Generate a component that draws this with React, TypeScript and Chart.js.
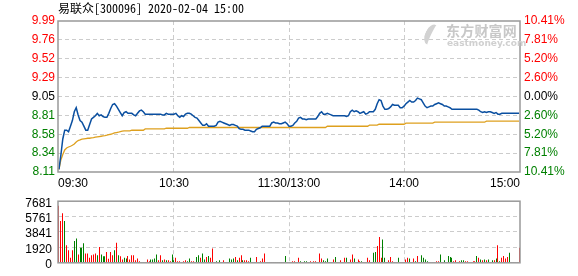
import { useEffect, useRef } from "react";
import { Chart, registerables } from "chart.js";

Chart.register(...registerables);

const titleText = "易联众[300096] 2020-02-04 15:00";
const preClose = 9.05;
const limitPct = 10.41;

// labels, top to bottom as displayed
const priceLabels = ["9.99", "9.76", "9.52", "9.29", "9.05", "8.81", "8.58", "8.34", "8.11"];
const pctLabels = ["10.41%", "7.81%", "5.20%", "2.60%", "0.00%", "2.60%", "5.20%", "7.81%", "10.41%"];
const volLabels = ["7681", "5761", "3841", "1920", "0"];
const volTickValues = [7681, 5761, 3841, 1920, 0];
const timeLabels = ["09:30", "10:30", "11:30/13:00", "14:00", "15:00"];
const timeTickIndex = [-0.5, 60, 120, 180, 240.5];

// minute-by-minute price, 09:30 .. 11:30
const priceAM = [
  8.14, 8.32, 8.52, 8.63, 8.63, 8.61, 8.68, 8.75, 8.86, 8.91,
  8.82, 8.75, 8.73, 8.68, 8.63, 8.63, 8.70, 8.77, 8.79, 8.81,
  8.84, 8.81, 8.82, 8.80, 8.79, 8.79, 8.84, 8.90, 8.95, 8.96,
  8.93, 8.89, 8.85, 8.81, 8.85, 8.86, 8.84, 8.84, 8.84, 8.82,
  8.81, 8.84, 8.87, 8.88, 8.86, 8.83, 8.83, 8.83, 8.83, 8.83,
  8.83, 8.83, 8.83, 8.83, 8.82, 8.82, 8.84, 8.83, 8.83, 8.83,
  8.83, 8.84, 8.81, 8.79, 8.81, 8.80, 8.83, 8.84, 8.84, 8.83,
  8.81, 8.79, 8.78, 8.75, 8.72, 8.69, 8.69, 8.71, 8.68, 8.68,
  8.68, 8.68, 8.69, 8.73, 8.74, 8.73, 8.72, 8.71, 8.70, 8.69,
  8.70, 8.70, 8.69, 8.68, 8.65, 8.64, 8.64, 8.63, 8.63, 8.63,
  8.62, 8.61, 8.61, 8.64, 8.65, 8.66, 8.68, 8.68, 8.68, 8.68,
  8.68, 8.72, 8.73, 8.72, 8.72, 8.71, 8.71, 8.72, 8.73, 8.71,
  8.68,
];
// 13:01 .. 15:00
const pricePM = [
  8.68, 8.69, 8.72, 8.74, 8.78, 8.79, 8.77, 8.77, 8.76, 8.77,
  8.77, 8.77, 8.77, 8.77, 8.80, 8.84, 8.86, 8.83, 8.83, 8.84,
  8.83, 8.82, 8.81, 8.81, 8.81, 8.81, 8.81, 8.81, 8.81, 8.80,
  8.81, 8.86, 8.88, 8.86, 8.87, 8.86, 8.84, 8.85, 8.86, 8.83,
  8.84, 8.86, 8.86, 8.86, 8.89, 8.96, 9.01, 9.00, 8.93, 8.89,
  8.89, 8.90, 8.92, 8.95, 8.94, 8.94, 8.94, 8.91, 8.91, 8.93,
  8.96, 8.98, 9.00, 8.98, 8.98, 9.00, 9.03, 9.02, 9.01, 8.97,
  8.93, 8.91, 8.92, 8.93, 8.93, 8.95, 8.96, 8.97, 8.96, 8.95,
  8.93, 8.93, 8.92, 8.91, 8.89, 8.89, 8.89, 8.89, 8.89, 8.89,
  8.89, 8.89, 8.89, 8.89, 8.89, 8.89, 8.89, 8.89, 8.88, 8.86,
  8.85, 8.86, 8.85, 8.86, 8.86, 8.85, 8.84, 8.85, 8.83, 8.83,
  8.84, 8.84, 8.84, 8.84, 8.84, 8.84, 8.84, 8.84, 8.84, 8.84,
];

// average price line
const avgAM = [
  8.141, 8.258, 8.325, 8.383, 8.408, 8.420, 8.429, 8.441, 8.458, 8.483,
  8.500, 8.508, 8.517, 8.521, 8.525, 8.529, 8.529, 8.533, 8.537, 8.542,
  8.546, 8.550, 8.554, 8.558, 8.562, 8.567, 8.575, 8.579, 8.587, 8.596,
  8.600, 8.604, 8.612, 8.617, 8.621, 8.621, 8.621, 8.621, 8.629, 8.629,
  8.629, 8.629, 8.629, 8.629, 8.629, 8.646, 8.646, 8.646, 8.646, 8.646,
  8.646, 8.646, 8.646, 8.646, 8.646, 8.646, 8.654, 8.654, 8.654, 8.654,
  8.654, 8.654, 8.654, 8.654, 8.654, 8.654, 8.654, 8.654, 8.663, 8.663,
  8.663, 8.663, 8.663, 8.663, 8.663, 8.663, 8.663, 8.663, 8.663, 8.663,
  8.663, 8.663, 8.663, 8.663, 8.663, 8.663, 8.663, 8.663, 8.663, 8.663,
  8.663, 8.663, 8.663, 8.663, 8.663, 8.663, 8.663, 8.663, 8.663, 8.663,
  8.663, 8.663, 8.663, 8.663, 8.663, 8.663, 8.663, 8.663, 8.663, 8.663,
  8.663, 8.663, 8.663, 8.663, 8.663, 8.663, 8.663, 8.663, 8.663, 8.663,
  8.663,
];
const avgPM = [
  8.663, 8.663, 8.663, 8.663, 8.663, 8.663, 8.663, 8.663, 8.663, 8.663,
  8.663, 8.663, 8.663, 8.663, 8.663, 8.663, 8.663, 8.663, 8.663, 8.679,
  8.679, 8.679, 8.679, 8.679, 8.679, 8.679, 8.679, 8.679, 8.679, 8.679,
  8.679, 8.679, 8.679, 8.679, 8.679, 8.679, 8.679, 8.679, 8.679, 8.679,
  8.679, 8.692, 8.692, 8.692, 8.692, 8.692, 8.704, 8.704, 8.704, 8.704,
  8.704, 8.704, 8.704, 8.704, 8.704, 8.704, 8.704, 8.704, 8.704, 8.704,
  8.717, 8.717, 8.717, 8.717, 8.717, 8.717, 8.717, 8.717, 8.717, 8.717,
  8.717, 8.717, 8.717, 8.717, 8.717, 8.729, 8.729, 8.729, 8.729, 8.729,
  8.729, 8.729, 8.729, 8.729, 8.729, 8.729, 8.729, 8.729, 8.729, 8.729,
  8.729, 8.729, 8.729, 8.729, 8.729, 8.729, 8.729, 8.729, 8.729, 8.729,
  8.729, 8.729, 8.742, 8.742, 8.742, 8.742, 8.742, 8.742, 8.742, 8.742,
  8.742, 8.742, 8.742, 8.742, 8.742, 8.742, 8.742, 8.742, 8.742, 8.742,
];

// per-minute volume
const volAM = [
  7120, 5210, 6180, 5210, 2190, 1560, 625, 1560, 2710, 3020,
  1040, 1880, 1880, 2430, 1150, 1150, 625, 940, 1040, 1150,
  940, 1980, 1040, 830, 830, 1350, 520, 1350, 940, 1560,
  2500, 940, 830, 417, 625, 521, 833, 417, 938, 938,
  313, 521, 208, 104, 104, 104, 417, 208, 417, 417,
  521, 1042, 313, 938, 313, 417, 313, 313, 208, 1042,
  313, 625, 208, 208, 104, 208, 313, 208, 521, 208,
  208, 104, 729, 938, 625, 1146, 417, 729, 833, 625,
  1771, 104, 208, 104, 313, 104, 313, 104, 104, 521,
  417, 521, 729, 313, 625, 938, 313, 313, 313, 208,
  625, 104, 104, 729, 104, 208, 521, 1146, 104, 104,
  104, 104, 104, 104, 104, 104, 104, 104, 833, 104,
  104,
];
const volPM = [
  104, 208, 208, 104, 625, 208, 104, 208, 208, 104,
  208, 104, 208, 208, 104, 1146, 521, 313, 208, 521,
  104, 104, 417, 729, 104, 104, 313, 104, 625, 625,
  104, 417, 1042, 521, 104, 417, 208, 208, 104, 104,
  625, 313, 104, 1250, 1354, 2084, 3230, 625, 2917, 625,
  104, 313, 729, 208, 104, 104, 625, 104, 104, 104,
  417, 625, 521, 104, 521, 208, 833, 104, 938, 625,
  417, 208, 104, 104, 104, 104, 208, 208, 1042, 104,
  313, 104, 833, 729, 625, 208, 313, 104, 208, 313,
  313, 208, 208, 104, 104, 208, 208, 833, 625, 417,
  313, 417, 313, 417, 104, 313, 313, 521, 2188, 208,
  625, 833, 521, 729, 1250, 104, 104, 104, 104, 1875,
];
// R = up (red), G = down (green)
const volDirAM =
  "RRRGRRRRGG" + "RGGGRRRRRR" + "GRGGGRRRRG" + "RGRRGGRRRR" + "RRRGGRRRGG" + "GGRRGRGRRG" +
  "GRRRRRRGGR" + "RGGGRGGRGR" + "RRGRGRRRGG" + "GGRGRRGRRR" + "GRRRGRRRGG" + "GRRGGGGGGR" + "R";
const volDirPM =
  "RRRRRGRGGR" + "RRRRRRRGGG" + "RRRGRRRRRG" + "RRRGRRRGGR" + "RRRGGRRRGG" + "RRRRRRGRRR" +
  "RRGRRGRRGG" + "GGRRRRRRGR" + "GRGGGRRRRG" + "GRRRRRRGRG" + "RGRGRGRGRG" + "RRRRGRRRRR";

const FONT = "'Liberation Sans', Arial, 'Noto Sans CJK SC', sans-serif";
const TITLE_FONT = "'Noto Sans Mono CJK SC', 'Noto Sans CJK SC', 'Liberation Sans', sans-serif";
const GRID = "#cccccc";
const CLEAR = "rgba(0,0,0,0)";

const boxPlugin = {
  id: "box",
  afterDraw(chart: any) {
    const { ctx, chartArea: a } = chart;
    ctx.save();
    ctx.strokeStyle = "#999999";
    ctx.lineWidth = 1.5;
    ctx.strokeRect(a.left, a.top, a.right - a.left, a.bottom - a.top);
    ctx.restore();
  },
};

const crispBars = {
  id: "crispBars",
  beforeDatasetsDraw(chart: any) {
    chart.getDatasetMeta(0).data.forEach((el: any) => {
      el.x = Math.floor(el.x) + 0.5;
    });
  },
};

export default function App() {
  const priceRef = useRef<HTMLCanvasElement>(null);
  const volRef = useRef<HTMLCanvasElement>(null);

  useEffect(() => {
    Chart.defaults.font.family = FONT;
    Chart.defaults.font.size = 12;
    Chart.defaults.color = "#000";

    const price = [...priceAM, ...pricePM];
    const avg = [...avgAM, ...avgPM];
    const vol = [...volAM, ...volPM];
    const dirs = (volDirAM + volDirPM).split("");

    const yMin = preClose * (1 - limitPct / 100);
    const yMax = preClose * (1 + limitPct / 100);
    const nT = priceLabels.length;
    const half = (nT - 1) / 2;
    const priceTickValues = priceLabels.map((_, k) => preClose * (1 + (limitPct / 100) * ((k - half) / half)));
    const volAsc = [...volTickValues].reverse();

    const xScale = (showLabels: boolean, h: number) => ({
      type: "linear" as const,
      offset: false,
      min: timeTickIndex[0],
      max: timeTickIndex[timeTickIndex.length - 1],
      afterBuildTicks: (s: any) => {
        s.ticks = timeTickIndex.map((v) => ({ value: v }));
      },
      afterFit: (s: any) => {
        s.height = h;
      },
      ticks: {
        display: showLabels,
        callback: (_v: any, i: number) => timeLabels[i],
        align: "inner" as const,
        autoSkip: false,
        maxRotation: 0,
        padding: 4,
        color: "#000",
      },
      grid: {
        offset: false,
        drawTicks: false,
        lineWidth: 1,
        color: (c: any) => (c.index > 0 && c.index < timeTickIndex.length - 1 ? GRID : CLEAR),
      },
      border: { display: false, dash: [4, 3] },
    });

    const c1 = new Chart(priceRef.current!, {
      type: "line",
      data: {
        datasets: [
          {
            label: "price",
            data: price.map((y, i) => ({ x: i, y })),
            borderColor: "#0a4fa0",
            borderWidth: 1.5,
            pointRadius: 0,
            yAxisID: "y",
          },
          {
            label: "avg",
            data: avg.map((y, i) => ({ x: i, y })),
            borderColor: "#dea01e",
            borderWidth: 1.3,
            pointRadius: 0,
            yAxisID: "y",
          },
        ],
      },
      options: {
        responsive: false,
        animation: false,
        layout: { padding: { top: 21, left: 0, right: 0, bottom: 0 } },
        plugins: { legend: { display: false }, tooltip: { enabled: false }, title: { display: false } },
        scales: {
          x: xScale(true, 24),
          y: {
            type: "linear",
            position: "left",
            min: yMin,
            max: yMax,
            afterBuildTicks: (s: any) => {
              s.ticks = priceTickValues.map((v) => ({ value: v }));
            },
            afterFit: (s: any) => {
              s.width = 58;
            },
            ticks: {
              autoSkip: false,
              padding: 3,
              callback: (_v: any, i: number) => priceLabels[nT - 1 - i],
              color: (c: any) => {
                const k = nT - 1 - c.index;
                return k < 4 ? "#ff0000" : k === 4 ? "#000000" : "#008000";
              },
            },
            grid: {
              drawTicks: false,
              lineWidth: 1,
              color: (c: any) => (c.index > 0 && c.index < nT - 1 ? GRID : CLEAR),
            },
            border: { display: false, dash: [4, 3] },
          },
          y2: {
            type: "linear",
            position: "right",
            min: yMin,
            max: yMax,
            afterBuildTicks: (s: any) => {
              s.ticks = priceTickValues.map((v) => ({ value: v }));
            },
            afterFit: (s: any) => {
              s.width = 58;
            },
            ticks: {
              autoSkip: false,
              padding: 4,
              callback: (_v: any, i: number) => pctLabels[nT - 1 - i],
              color: (c: any) => {
                const k = nT - 1 - c.index;
                return k < 4 ? "#ff0000" : k === 4 ? "#000000" : "#008000";
              },
            },
            grid: { display: false, drawTicks: false },
            border: { display: false },
          },
        },
      },
      plugins: [boxPlugin],
    });

    const c2 = new Chart(volRef.current!, {
      type: "bar",
      data: {
        datasets: [
          {
            label: "vol",
            data: vol.map((y, i) => ({ x: i, y })),
            backgroundColor: dirs.map((d) => (d === "R" ? "#ff0000" : "#008000")),
            borderWidth: 0,
            barThickness: 1,
            inflateAmount: 0,
            grouped: false,
          } as any,
        ],
      },
      options: {
        responsive: false,
        animation: false,
        layout: { padding: { top: 8, left: 0, right: 58, bottom: 0 } },
        plugins: { legend: { display: false }, tooltip: { enabled: false }, title: { display: false } },
        scales: {
          x: xScale(false, 6) as any,
          y: {
            type: "linear",
            position: "left",
            min: 0,
            max: volTickValues[0],
            afterBuildTicks: (s: any) => {
              s.ticks = volAsc.map((v) => ({ value: v }));
            },
            afterFit: (s: any) => {
              s.width = 58;
            },
            ticks: {
              autoSkip: false,
              padding: 6,
              labelOffset: 2,
              callback: (_v: any, i: number) => volLabels[volLabels.length - 1 - i],
              color: "#000",
            },
            grid: {
              drawTicks: false,
              lineWidth: 1,
              color: (c: any) => (c.index > 0 && c.index < volAsc.length - 1 ? GRID : CLEAR),
            },
            border: { display: false, dash: [4, 3] },
          },
        },
      },
      plugins: [boxPlugin, crispBars],
    });

    return () => {
      c1.destroy();
      c2.destroy();
    };
  }, []);

  return (
    <div
      style={{
        position: "fixed",
        left: 0,
        top: 0,
        width: 578,
        height: 276,
        background: "#fff",
        overflow: "hidden",
      }}
    >
      <canvas ref={priceRef} width={578} height={196} style={{ position: "absolute", left: 0, top: 0, display: "block" }} />
      <canvas ref={volRef} width={578} height={88} style={{ position: "absolute", left: 0, top: 188, display: "block" }} />
      <div
        style={{
          position: "absolute",
          left: 58,
          top: 0,
          fontFamily: TITLE_FONT,
          fontSize: 12,
          lineHeight: "15px",
          color: "#000",
          whiteSpace: "nowrap",
        }}
      >
        {titleText}
      </div>
      <div
        style={{
          position: "absolute",
          left: 423,
          top: 23,
          width: 98,
          height: 26,
          pointerEvents: "none",
        }}
      >
        <div
          style={{
            position: "absolute",
            left: 2,
            top: 1,
            width: 14,
            height: 22,
            borderLeft: "6px solid #d2d2d2",
            borderRadius: "50%",
            transform: "rotate(25deg)",
            boxSizing: "border-box",
          }}
        />
        <div
          style={{
            position: "absolute",
            left: 23,
            top: -1,
            fontFamily: "'Noto Sans CJK SC', sans-serif",
            fontWeight: 700,
            fontSize: 14,
            lineHeight: "17px",
            color: "#c8c8c8",
            letterSpacing: 0.2,
            whiteSpace: "nowrap",
          }}
        >
          东方财富网
        </div>
        <div
          style={{
            position: "absolute",
            left: 24,
            top: 15,
            fontFamily: "'DejaVu Sans', sans-serif",
            fontWeight: 700,
            fontSize: 9,
            lineHeight: "10px",
            color: "#d0d0d0",
            whiteSpace: "nowrap",
          }}
        >
          eastmoney.com
        </div>
      </div>
    </div>
  );
}
